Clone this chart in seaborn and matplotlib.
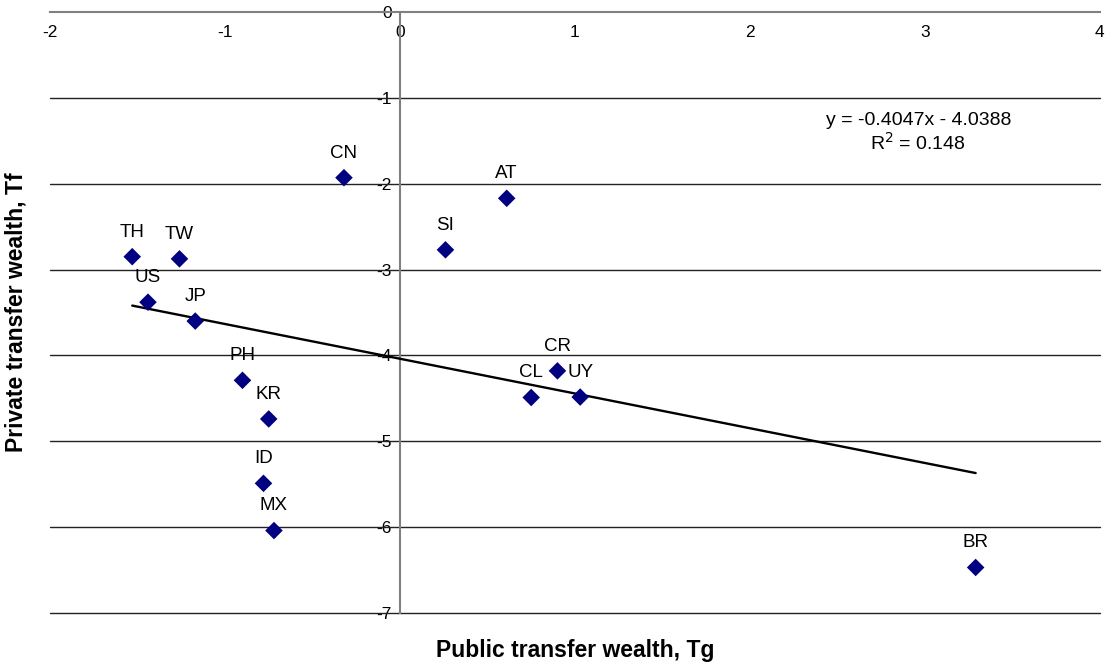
import numpy as np
import pandas as pd
import seaborn as sns
import matplotlib.pyplot as plt

# country codes and transfer wealth values
countries = ["TH", "TW", "US", "JP", "CN", "PH", "KR", "ID", "MX",
             "AT", "SI", "CR", "CL", "UY", "BR"]
public_tg = [-1.53, -1.26, -1.44, -1.17, -0.32, -0.90, -0.75, -0.78, -0.72,
             0.61, 0.26, 0.90, 0.75, 1.03, 3.29]
private_tf = [-2.85, -2.875, -3.38, -3.60, -1.93, -4.29, -4.74, -5.49, -6.04,
              -2.17, -2.77, -4.18, -4.49, -4.485, -6.47]

# linear trend shown on the chart
slope = -0.4047
intercept = -4.0388
r_squared = 0.148

x_ticks = [-2, -1, 0, 1, 2, 3, 4]
y_ticks = [0, -1, -2, -3, -4, -5, -6, -7]


def main():
    df = pd.DataFrame({"country": countries, "Tg": public_tg, "Tf": private_tf})

    sns.set_style("white")
    plt.rcParams["font.family"] = ["Liberation Sans", "DejaVu Sans"]
    plt.rcParams["text.color"] = "black"
    plt.rcParams["axes.labelcolor"] = "black"
    plt.rcParams["xtick.color"] = "black"
    plt.rcParams["ytick.color"] = "black"

    fig = plt.figure(figsize=(11.11, 6.67), dpi=100)
    ax = fig.add_axes([0.045, 0.081, 0.945, 0.901])

    # horizontal grid lines
    for yv in y_ticks[1:]:
        ax.axhline(yv, color="#222222", lw=1.0, zorder=1, clip_on=False)

    sns.scatterplot(data=df, x="Tg", y="Tf", marker="D", color="#000080",
                    edgecolor="none", s=80, ax=ax, zorder=4)

    xs = np.array([df["Tg"].min(), df["Tg"].max()])
    trend = pd.DataFrame({"x": xs, "y": slope * xs + intercept})
    sns.lineplot(data=trend, x="x", y="y", color="black", lw=1.7, ax=ax,
                 zorder=3)

    for _, row in df.iterrows():
        ax.annotate(row["country"], (row["Tg"], row["Tf"]),
                    xytext=(0, 14.5), textcoords="offset points",
                    ha="center", va="baseline", fontsize=13.5)

    ax.text(0.827, 0.820, f"y = {slope}x - {abs(intercept)}",
            transform=ax.transAxes, ha="center", va="center", fontsize=14)
    ax.text(0.827, 0.782, f"R$^2$ = {r_squared}",
            transform=ax.transAxes, ha="center", va="center", fontsize=14)

    ax.set_xlim(-2, 4)
    ax.set_ylim(-7, 0)
    ax.set_xticks(x_ticks)
    ax.set_yticks(y_ticks)
    ax.set_xticklabels([str(t) for t in x_ticks])
    ax.set_yticklabels([str(t) for t in y_ticks])

    for side in ["top", "right"]:
        ax.spines[side].set_visible(False)
    ax.spines["bottom"].set_position(("data", 0))
    ax.spines["left"].set_position(("data", 0))
    for side in ["bottom", "left"]:
        ax.spines[side].set_color("#808080")
        ax.spines[side].set_linewidth(1.5)

    ax.tick_params(axis="both", direction="out", length=4, width=1,
                   color="#404040", labelsize=12.5, pad=2)
    ax.tick_params(axis="x", pad=5)

    ax.set_xlabel("Public transfer wealth, Tg", fontsize=16.5, fontweight="bold")
    ax.set_ylabel("Private transfer wealth, Tf", fontsize=16.5, fontweight="bold")
    ax.xaxis.set_label_coords(0.5, -0.043)
    ax.yaxis.set_label_coords(-0.021, 0.5)

    fig.savefig("out.png", dpi=100)
    plt.close(fig)


if __name__ == "__main__":
    main()
